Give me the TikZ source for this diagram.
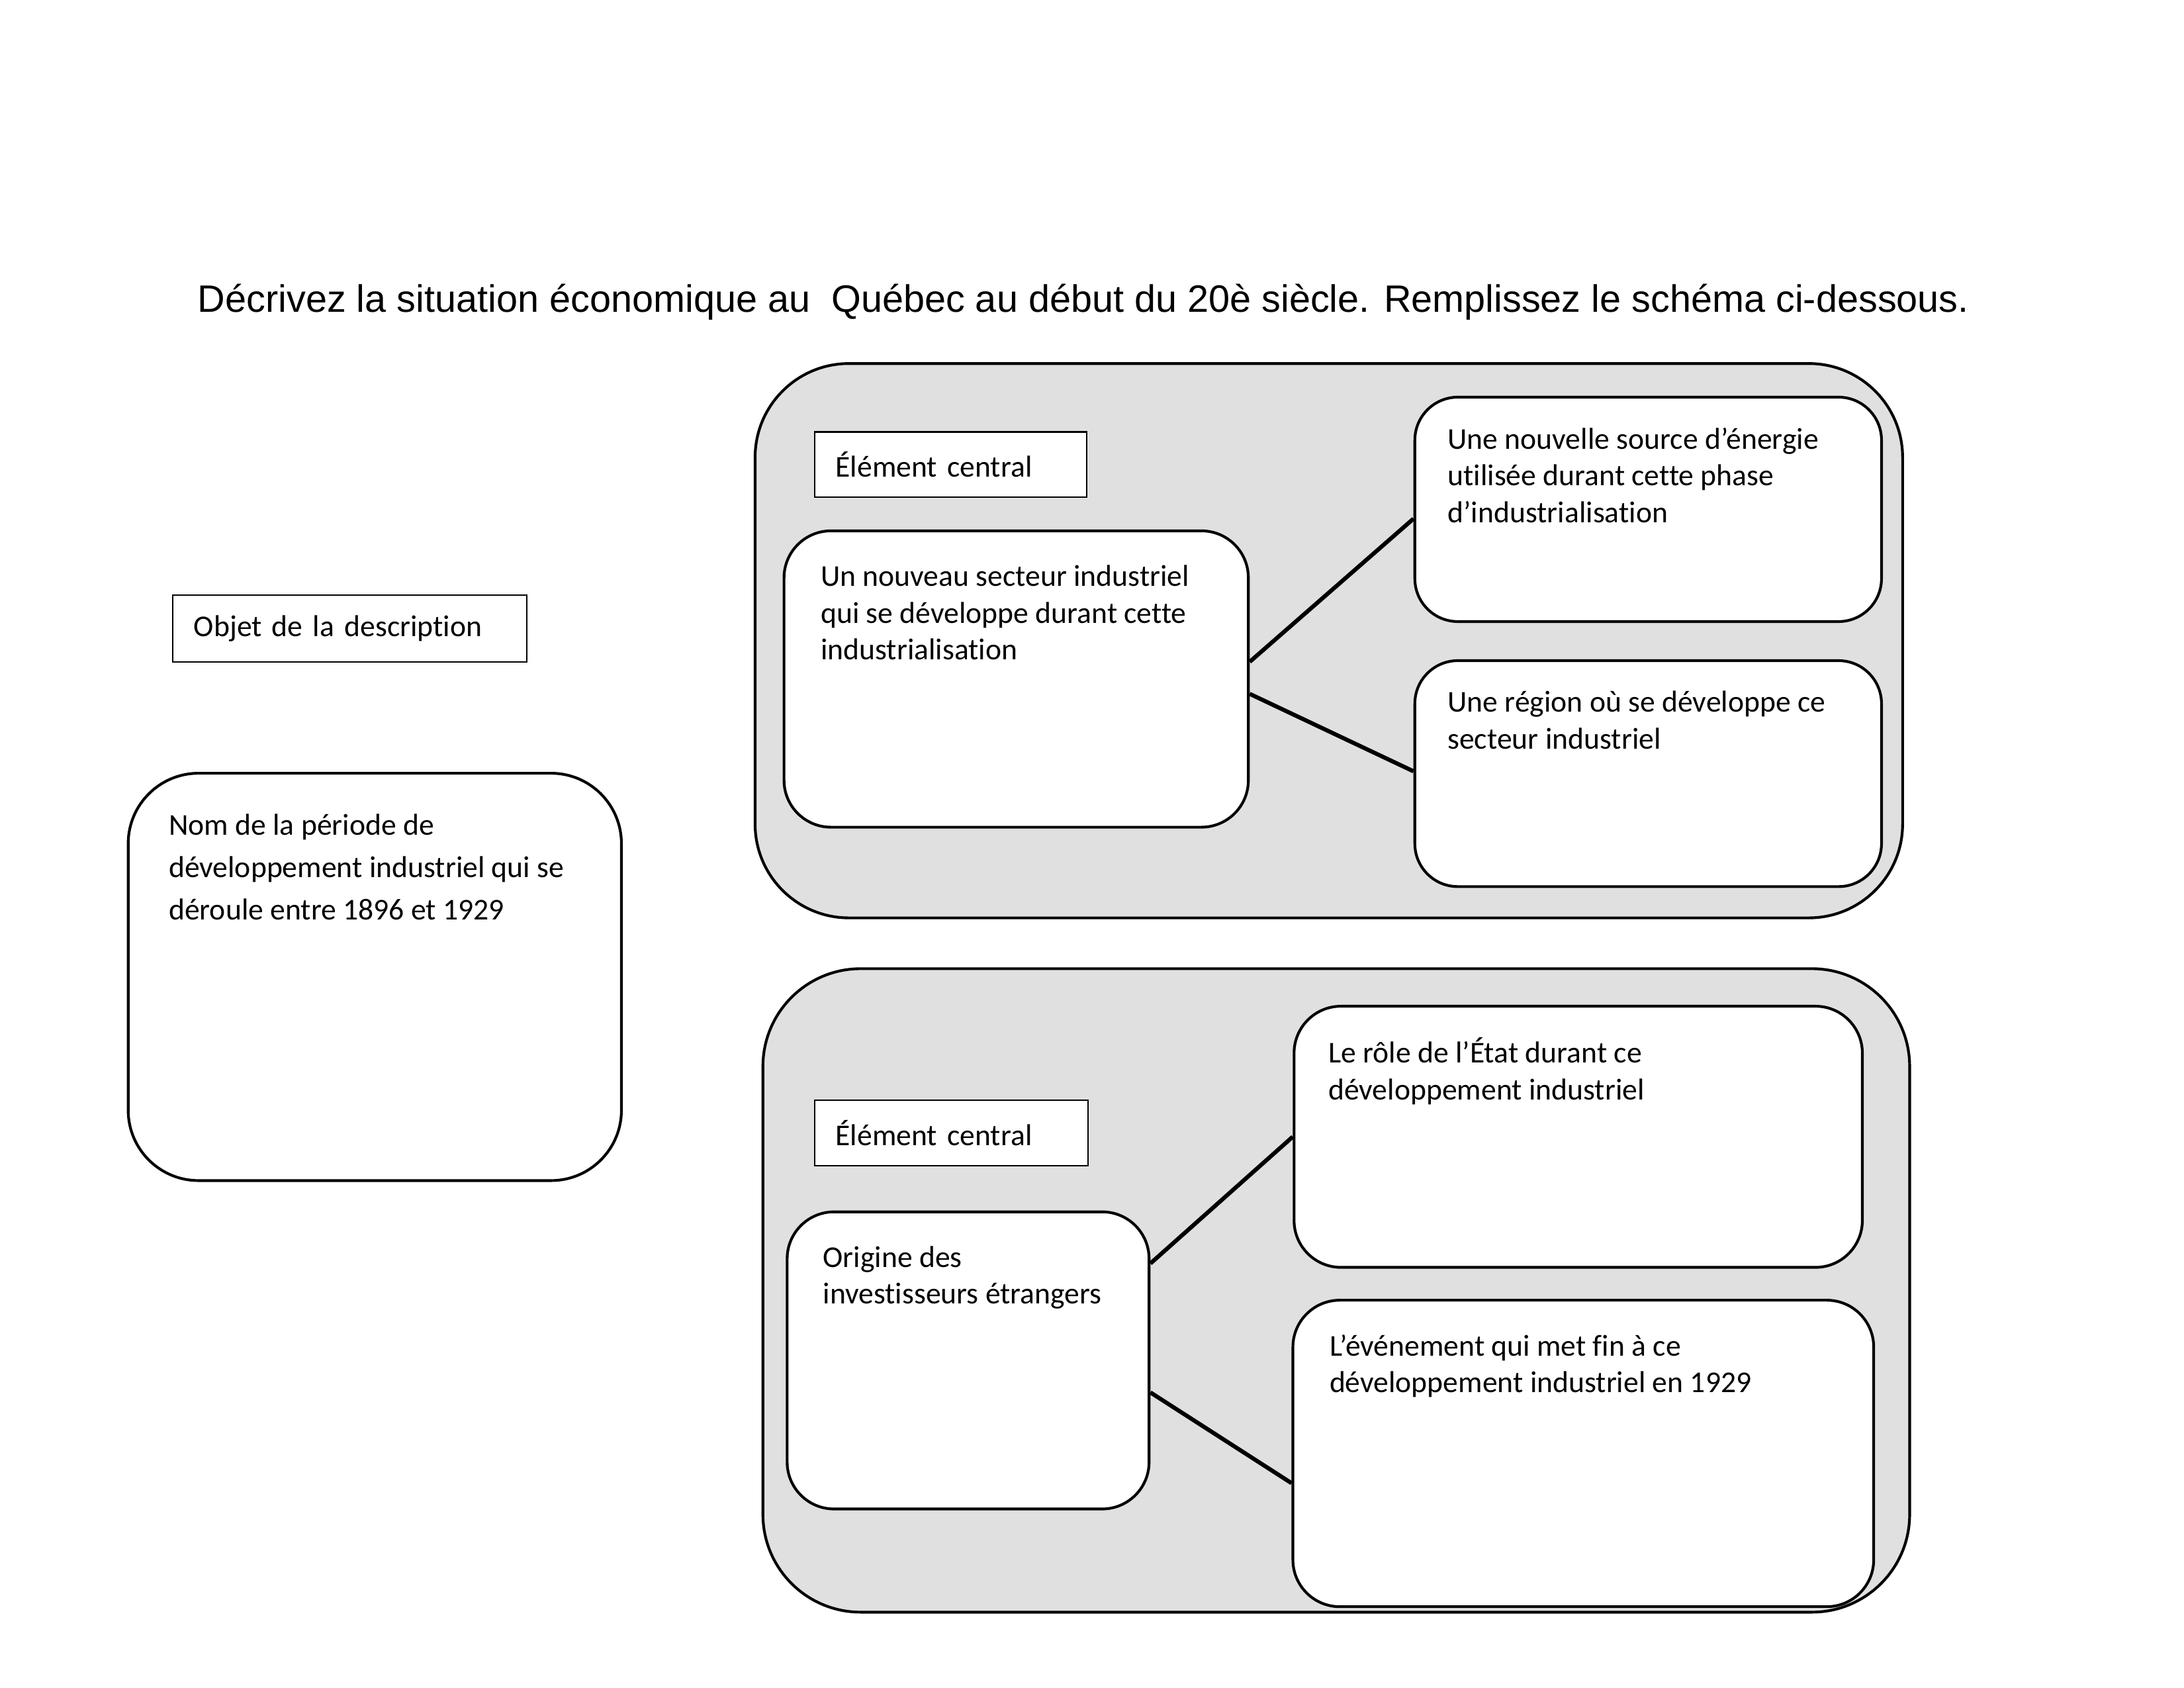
\documentclass[tikz,border=0pt]{standalone}
\usepackage{fontspec}
\setmainfont{Carlito}[Ligatures=NoCommon]
\newfontfamily\titlefont{Liberation Sans}
\usetikzlibrary{positioning}

\begin{document}
\begin{tikzpicture}[
    panel/.style={draw,line width=1pt,fill=black!12,rounded corners=1.2cm},
    ebox/.style={draw,line width=1pt,fill=white,rounded corners=0.6cm,inner sep=0pt},
    tag/.style={draw,line width=0.5pt,fill=white,align=left,inner xsep=0.27cm,
      font=\fontsize{11pt}{13.4pt}\selectfont},
    btext/.style={inner sep=0pt,align=left,font=\fontsize{11pt}{13.4pt}\selectfont},
    link/.style={line width=1.5pt}]
  \useasboundingbox (0,0) rectangle (27.94,21.59);

  \node[font=\titlefont\fontsize{13.88pt}{17pt}\selectfont,anchor=base] (titre) at (13.86,17.60)
    {Décrivez la situation économique au~ Québec au début du 20è siècle. Remplissez le schéma ci-dessous.};

  \node[tag,text width=3.99cm,minimum height=0.86cm] (objet) at (4.475,13.55) {Objet de la description};
  \node[ebox,rounded corners=0.9cm,minimum width=6.31cm,minimum height=5.21cm] (periode) at (4.795,9.095) {};
  \node[btext,font=\fontsize{11pt}{15.5pt}\selectfont,below right=0.53cm and 0.53cm of periode.north west] (periode-txt)
    {Nom de la période de\\développement industriel qui se\\déroule entre 1896 et 1929};

  \draw[panel] (9.66,9.85) rectangle (24.34,16.94);
  \node[tag,text width=2.94cm,minimum height=0.83cm] (central-a) at (12.16,15.65) {Élément central};
  \node[ebox,minimum width=5.94cm,minimum height=3.79cm] (secteur) at (13.00,12.905) {};
  \node[btext,below right=0.45cm and 0.48cm of secteur.north west] (secteur-txt)
    {Un nouveau secteur industriel\\qui se développe durant cette\\industrialisation};
  \node[ebox,rounded corners=0.55cm,minimum width=5.97cm,minimum height=2.87cm] (energie) at (21.085,15.075) {};
  \node[btext,below right=0.40cm and 0.43cm of energie.north west] (energie-txt)
    {Une nouvelle source d’énergie\\utilisée durant cette phase\\d’industrialisation};
  \node[ebox,rounded corners=0.55cm,minimum width=5.97cm,minimum height=2.89cm] (region) at (21.085,11.695) {};
  \node[btext,below right=0.40cm and 0.43cm of region.north west] (region-txt)
    {Une région où se développe ce\\secteur industriel};
  \draw[link] ([yshift=0.22cm]secteur.east) -- ([yshift=-0.12cm]energie.west);
  \draw[link] ([yshift=-0.19cm]secteur.east) -- ([yshift=0.03cm]region.west);

  \draw[panel,rounded corners=1.25cm] (9.76,0.97) rectangle (24.43,9.20);
  \node[tag,text width=2.96cm,minimum height=0.84cm] (central-b) at (12.17,7.10) {Élément central};
  \node[ebox,minimum width=4.63cm,minimum height=3.80cm] (origine) at (12.385,4.19) {};
  \node[btext,below right=0.45cm and 0.47cm of origine.north west] (origine-txt)
    {Origine des\\investisseurs étrangers};
  \node[ebox,minimum width=7.27cm,minimum height=3.34cm] (role) at (20.19,7.05) {};
  \node[btext,below right=0.41cm and 0.45cm of role.north west] (role-txt)
    {Le rôle de l’État durant ce\\développement industriel};
  \node[ebox,minimum width=7.43cm,minimum height=3.92cm] (evenement) at (20.255,3.0) {};
  \node[btext,below right=0.45cm and 0.48cm of evenement.north west] (evenement-txt)
    {L’événement qui met fin à ce\\développement industriel en 1929};
  \draw[link] ([yshift=1.24cm]origine.east) -- (role.west);
  \draw[link] ([yshift=-0.41cm]origine.east) -- ([yshift=-0.38cm]evenement.west);
\end{tikzpicture}
\end{document}
